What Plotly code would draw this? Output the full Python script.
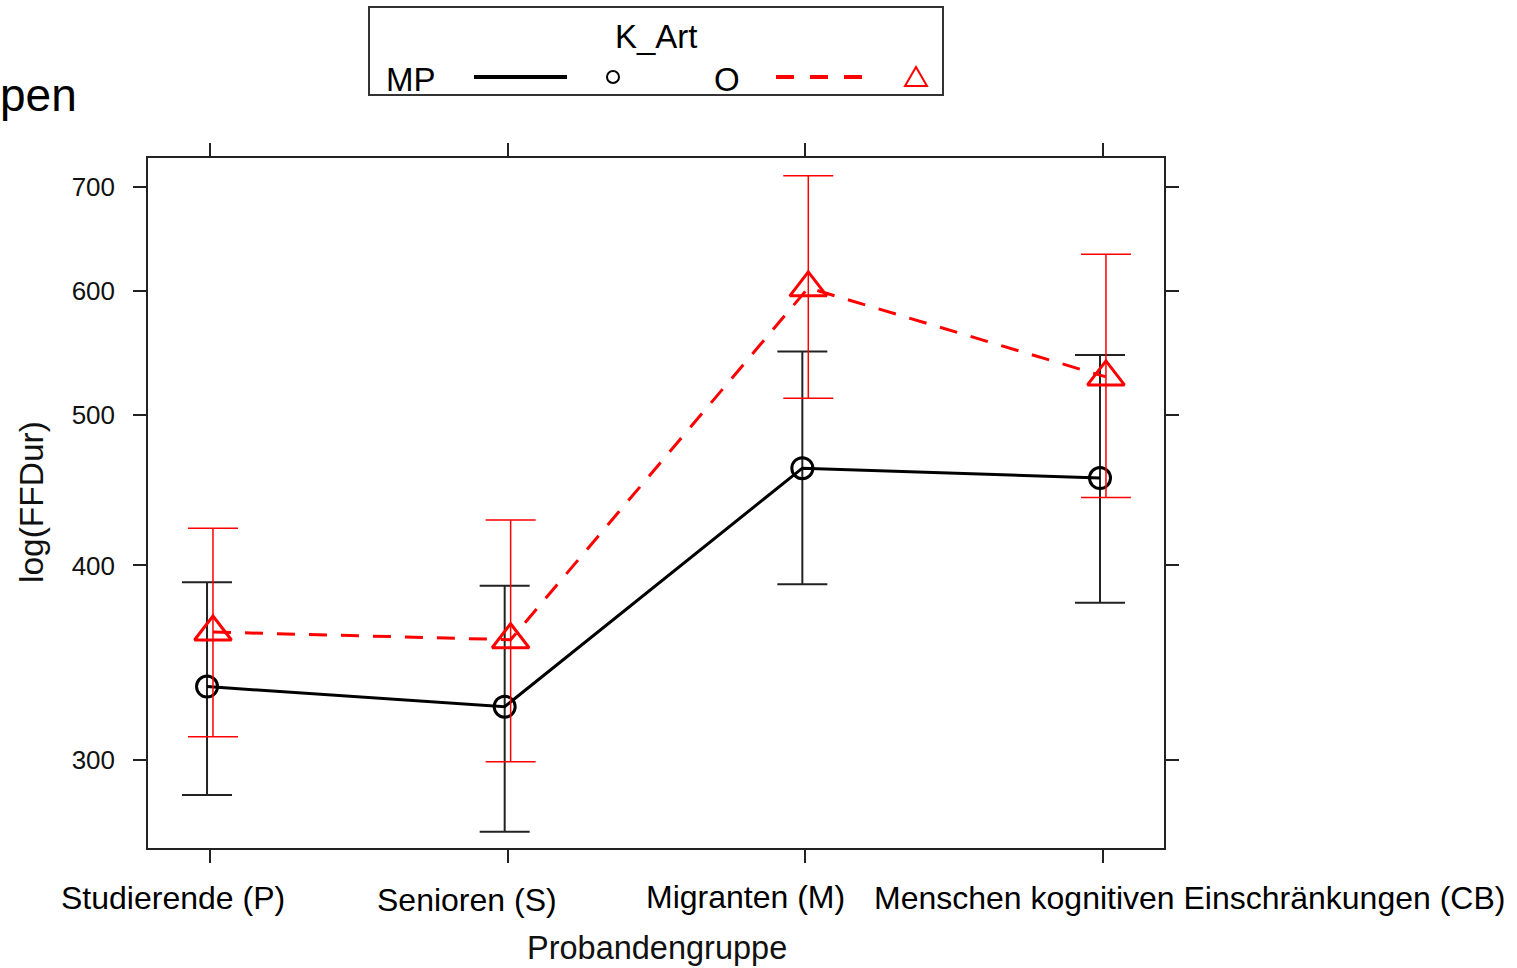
import plotly.graph_objects as go

# ---- data ----
categories = ["Studierende (P)", "Senioren (S)", "Migranten (M)",
              "Menschen kognitiven Einschränkungen (CB)"]
mp_mean = [334.4, 324.6, 461.9, 455.2]
mp_upper = [390.2, 388.1, 548.8, 546.1]
mp_lower = [284.9, 269.8, 389.1, 378.6]
o_mean = [362.5, 358.4, 603.0, 528.6]
o_upper = [422.6, 427.8, 711.8, 633.8]
o_lower = [310.5, 299.2, 512.1, 442.2]
y_ticks = [300, 400, 500, 600, 700]

W, H = 1517, 968
L, R, T, B = 148, 1164, 158, 848
FONT = "Liberation Sans, Arial, sans-serif"


def px(x):
    return (x - L) / (R - L)


def py(y):
    return (B - y) / (B - T)


idx = list(range(len(categories)))
x_mp = [i - 0.01 for i in idx]
x_o = [i + 0.01 for i in idx]

fig = go.Figure()

fig.add_trace(go.Scatter(
    x=x_mp, y=mp_mean, mode="lines+markers", name="MP",
    line=dict(color="black", width=3),
    marker=dict(symbol="circle-open", size=21, color="black",
                line=dict(width=3, color="black")),
    error_y=dict(type="data", symmetric=False,
                 array=[u - m for u, m in zip(mp_upper, mp_mean)],
                 arrayminus=[m - l for m, l in zip(mp_mean, mp_lower)],
                 color="#222222", thickness=2, width=25),
    showlegend=False,
))

fig.add_trace(go.Scatter(
    x=x_o, y=o_mean, mode="lines+markers", name="O",
    line=dict(color="#ff0000", width=3, dash="18px,14px"),
    marker=dict(symbol="triangle-up-open", size=32, color="#ff0000",
                line=dict(width=3, color="#ff0000")),
    error_y=dict(type="data", symmetric=False,
                 array=[u - m for u, m in zip(o_upper, o_mean)],
                 arrayminus=[m - l for m, l in zip(o_mean, o_lower)],
                 color="#ff0000", thickness=1.5, width=25),
    showlegend=False,
))

annotations = []
# x tick labels (offset as in the reference)
label_centers = [173, 467, 745, 1189]
label_ys = [898, 900, 897, 898]
for lab, cx, cy in zip(categories, label_centers, label_ys):
    annotations.append(dict(text=lab, xref="paper", yref="paper",
                            x=px(cx), y=py(cy), showarrow=False,
                            xanchor="center", yanchor="middle",
                            font=dict(family=FONT, size=32, color="black")))
# axis titles
annotations.append(dict(text="Probandengruppe", xref="paper", yref="paper",
                        x=px(657), y=py(948), showarrow=False,
                        xanchor="center", yanchor="middle",
                        font=dict(family=FONT, size=32.5, color="#111")))
annotations.append(dict(text="log(FFDur)", xref="paper", yref="paper",
                        x=px(31), y=py(502), showarrow=False, textangle=-90,
                        xanchor="center", yanchor="middle",
                        font=dict(family=FONT, size=33.5, color="#111")))
# cut-off title fragment
annotations.append(dict(text="pen", xref="paper", yref="paper",
                        x=px(-2), y=py(95), showarrow=False,
                        xanchor="left", yanchor="middle",
                        font=dict(family=FONT, size=46, color="black")))
# legend texts
legend_font = dict(family=FONT, size=33, color="black")
annotations.append(dict(text="K_Art", xref="paper", yref="paper",
                        x=px(656), y=py(37), showarrow=False,
                        xanchor="center", yanchor="middle", font=legend_font))
annotations.append(dict(text="MP", xref="paper", yref="paper",
                        x=px(411), y=py(79), showarrow=False,
                        xanchor="center", yanchor="middle", font=legend_font))
annotations.append(dict(text="O", xref="paper", yref="paper",
                        x=px(727), y=py(79), showarrow=False,
                        xanchor="center", yanchor="middle", font=legend_font))

shapes = [
    dict(type="rect", xref="paper", yref="paper",
         x0=px(369), x1=px(943), y0=py(95), y1=py(7),
         line=dict(color="#333", width=2), fillcolor="white", layer="above"),
    dict(type="line", xref="paper", yref="paper",
         x0=px(474), x1=px(567), y0=py(77), y1=py(77),
         line=dict(color="black", width=4)),
    dict(type="circle", xref="paper", yref="paper",
         x0=px(607), x1=px(619), y0=py(83), y1=py(71),
         line=dict(color="black", width=2)),
    dict(type="line", xref="paper", yref="paper",
         x0=px(776), x1=px(864), y0=py(77), y1=py(77),
         line=dict(color="#ff0000", width=4, dash="18px,16px")),
    dict(type="path", xref="paper", yref="paper",
         path=f"M {px(905)} {py(86)} L {px(927)} {py(86)} L {px(916)} {py(67)} Z",
         line=dict(color="#ff0000", width=2)),
]

axis_common = dict(showline=True, linecolor="#222", linewidth=1.5,
                   mirror="ticks", ticks="outside", tickcolor="#222",
                   tickwidth=1.5, ticklen=13, showgrid=False, zeroline=False)

fig.update_layout(
    width=W, height=H,
    margin=dict(l=L, r=W - R, t=T, b=H - B, pad=0),
    paper_bgcolor="white", plot_bgcolor="white",
    xaxis=dict(range=[-0.2083, 3.205], tickvals=idx, showticklabels=False,
               **axis_common),
    yaxis=dict(type="log", range=[2.42061, 2.86372], tickvals=y_ticks,
               ticktext=[str(v) for v in y_ticks], ticklabelstandoff=13,
               tickfont=dict(family=FONT, size=26, color="#111"),
               **axis_common),
    annotations=annotations,
    shapes=shapes,
    showlegend=False,
)

fig.write_html(
    "out.html",
    config={"displayModeBar": False},
    post_script="document.body.style.margin='0';document.body.style.overflow='hidden';",
)
